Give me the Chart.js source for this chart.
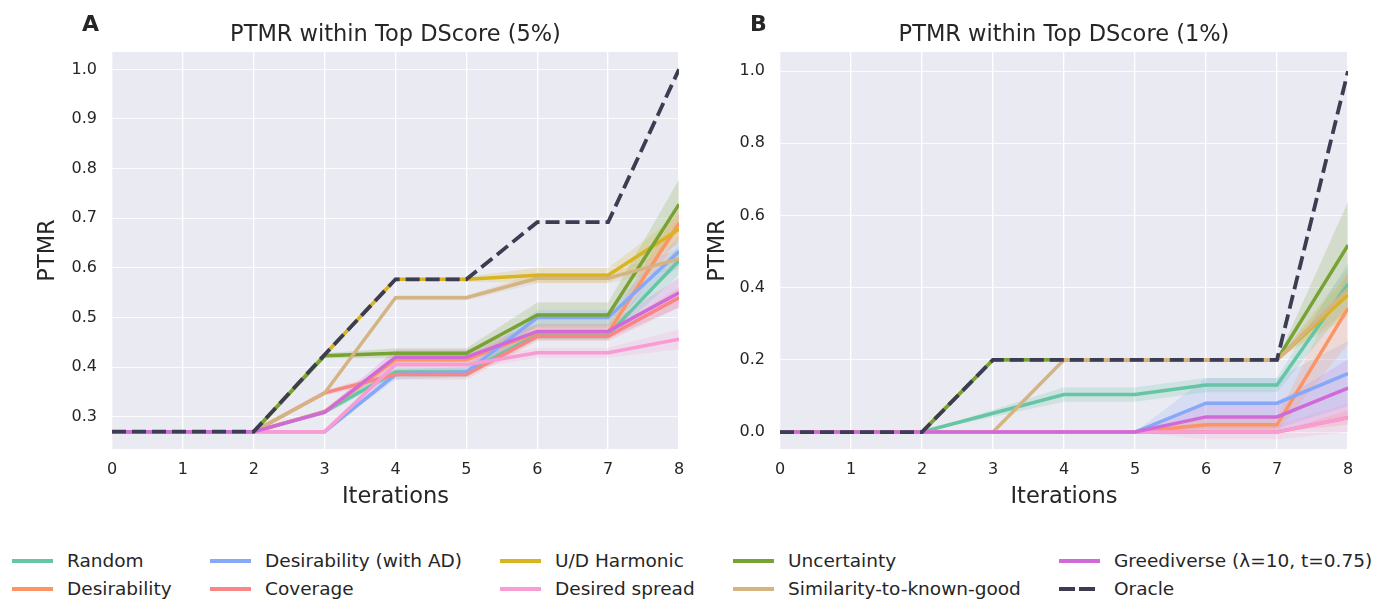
<!DOCTYPE html>
<html>
<head>
<meta charset="utf-8">
<script src="https://cdn.jsdelivr.net/npm/chart.js@4"></script>
<style>
body { margin: 0; background: #fff; font-family: "DejaVu Sans", sans-serif; color: #262626; }
#wrap { position: relative; width: 1381px; height: 601px; overflow: hidden; }
canvas { position: absolute; top: 0; }
.ttl { position: absolute; top: 19px; height: 28px; line-height: 28px; font-size: 22.5px; text-align: center; white-space: nowrap; }
.pl { position: absolute; top: 11px; font-size: 22px; font-weight: bold; }
.lg { position: absolute; font-size: 18.5px; line-height: 22px; white-space: nowrap; }
.sw { position: absolute; height: 3.5px; }
</style>
</head>
<body>
<div id="wrap">
  <canvas id="chartA" width="700" height="530" style="left:0"></canvas>
  <canvas id="chartB" width="691" height="530" style="left:690px"></canvas>
  <div class="pl" style="left:82px">A</div>
  <div class="pl" style="left:750px">B</div>
  <div class="ttl" style="left:112px;width:567px">PTMR within Top DScore (5%)</div>
  <div class="ttl" style="left:780px;width:568px">PTMR within Top DScore (1%)</div>
  <div id="legend"></div>
</div>
<script>
const iterations = [0, 1, 2, 3, 4, 5, 6, 7, 8];

const seriesNames = ['Random', 'Desirability', 'Desirability (with AD)', 'Coverage', 'U/D Harmonic',
  'Desired spread', 'Uncertainty', 'Similarity-to-known-good', 'Greediverse (\u03bb=10, t=0.75)', 'Oracle'];
const seriesColors = ['#66c5a5', '#fc9464', '#86a8f8', '#f88686', '#d8b420',
  '#f89cd4', '#76a334', '#d4b483', '#d06ad8', '#3c3d52'];

// top 5% panel, mean and half-width of the shaded band
const top5Mean = [
  [0.27, 0.27, 0.27, 0.31, 0.39, 0.39, 0.465, 0.465, 0.615],
  [0.27, 0.27, 0.27, 0.31, 0.415, 0.415, 0.47, 0.47, 0.69],
  [0.27, 0.27, 0.27, 0.27, 0.385, 0.39, 0.50, 0.50, 0.633],
  [0.27, 0.27, 0.27, 0.348, 0.385, 0.385, 0.462, 0.462, 0.54],
  [0.27, 0.27, 0.27, 0.425, 0.577, 0.577, 0.585, 0.585, 0.678],
  [0.27, 0.27, 0.27, 0.27, 0.405, 0.405, 0.429, 0.429, 0.456],
  [0.27, 0.27, 0.27, 0.423, 0.428, 0.428, 0.505, 0.505, 0.728],
  [0.27, 0.27, 0.27, 0.348, 0.54, 0.54, 0.579, 0.579, 0.618],
  [0.27, 0.27, 0.27, 0.309, 0.42, 0.42, 0.472, 0.472, 0.55],
  [0.27, 0.27, 0.27, 0.425, 0.577, 0.577, 0.692, 0.692, 1.0]
];
const top5Err = [
  [0, 0, 0, 0.005, 0.01, 0.01, 0.01, 0.01, 0.03],
  [0, 0, 0, 0.005, 0.01, 0.01, 0.015, 0.015, 0.03],
  [0, 0, 0, 0, 0.01, 0.01, 0.015, 0.015, 0.03],
  [0, 0, 0, 0.005, 0.01, 0.01, 0.01, 0.01, 0.02],
  [0, 0, 0, 0, 0, 0.005, 0.015, 0.015, 0.03],
  [0, 0, 0, 0, 0.01, 0.01, 0.01, 0.01, 0.02],
  [0, 0, 0, 0.005, 0.01, 0.01, 0.025, 0.025, 0.05],
  [0, 0, 0, 0, 0.005, 0.005, 0.01, 0.01, 0.02],
  [0, 0, 0, 0.005, 0.015, 0.015, 0.015, 0.015, 0.03],
  [0, 0, 0, 0, 0, 0, 0, 0, 0]
];

// top 1% panel
const top1Mean = [
  [0, 0, 0, 0.052, 0.104, 0.104, 0.13, 0.13, 0.41],
  [0, 0, 0, 0, 0, 0, 0.02, 0.02, 0.343],
  [0, 0, 0, 0, 0, 0, 0.08, 0.08, 0.162],
  [0, 0, 0, 0, 0, 0, 0, 0, 0.04],
  [0, 0, 0, 0.2, 0.2, 0.2, 0.2, 0.2, 0.38],
  [0, 0, 0, 0, 0, 0, 0, 0, 0.04],
  [0, 0, 0, 0.2, 0.2, 0.2, 0.2, 0.2, 0.518],
  [0, 0, 0, 0, 0.2, 0.2, 0.2, 0.2, 0.395],
  [0, 0, 0, 0, 0, 0, 0.042, 0.042, 0.122],
  [0, 0, 0, 0.2, 0.2, 0.2, 0.2, 0.2, 1.0]
];
const top1Err = [
  [0, 0, 0, 0.01, 0.02, 0.02, 0.02, 0.02, 0.06],
  [0, 0, 0, 0, 0, 0, 0.02, 0.02, 0.1],
  [0, 0, 0, 0, 0, 0, 0.07, 0.07, 0.09],
  [0, 0, 0, 0, 0, 0, 0, 0, 0.02],
  [0, 0, 0, 0, 0, 0, 0, 0, 0.06],
  [0, 0, 0, 0, 0, 0, 0.02, 0.02, 0.04],
  [0, 0, 0, 0, 0, 0, 0, 0, 0.12],
  [0, 0, 0, 0, 0, 0, 0, 0, 0.06],
  [0, 0, 0, 0, 0, 0, 0.04, 0.04, 0.08],
  [0, 0, 0, 0, 0, 0, 0, 0, 0]
];

const top5Ticks = [0.3, 0.4, 0.5, 0.6, 0.7, 0.8, 0.9, 1.0];
const top1Ticks = [0.0, 0.2, 0.4, 0.6, 0.8, 1.0];

function rgba(hex, a) {
  const n = parseInt(hex.slice(1), 16);
  return 'rgba(' + (n >> 16) + ',' + ((n >> 8) & 255) + ',' + (n & 255) + ',' + a + ')';
}

function buildDatasets(means, errs) {
  const ds = [];
  const nBands = seriesNames.length - 1;
  for (let i = 0; i < nBands; i++) {
    const up = ds.length;
    ds.push({
      data: means[i].map((m, k) => ({ x: iterations[k], y: m + errs[i][k] })),
      borderWidth: 0, pointRadius: 0, fill: false, order: 100 + i
    });
    ds.push({
      data: means[i].map((m, k) => ({ x: iterations[k], y: m - errs[i][k] })),
      borderWidth: 0, pointRadius: 0, order: 100 + i,
      fill: { target: up }, backgroundColor: rgba(seriesColors[i], 0.2)
    });
  }
  seriesNames.forEach((name, i) => {
    const oracle = name === 'Oracle';
    ds.push({
      label: name,
      data: means[i].map((m, k) => ({ x: iterations[k], y: m })),
      borderColor: seriesColors[i],
      borderWidth: oracle ? 3.8 : 3.5,
      borderDash: oracle ? [14, 6] : [],
      pointRadius: 0,
      fill: false,
      tension: 0,
      order: seriesNames.length - i
    });
  });
  return ds;
}

const plotBg = {
  id: 'plotBg',
  beforeDraw(chart) {
    const a = chart.chartArea;
    chart.ctx.save();
    chart.ctx.fillStyle = '#eaeaf2';
    chart.ctx.fillRect(a.left, a.top, a.right - a.left, a.bottom - a.top);
    chart.ctx.restore();
  }
};

function createChart(id, means, errs, tickVals, yMin, yMax, yWidth, yTitlePad, padRight) {
  const ctx = document.getElementById(id).getContext('2d');
  return new Chart(ctx, {
    type: 'line',
    data: { datasets: buildDatasets(means, errs) },
    plugins: [plotBg],
    options: {
      responsive: false,
      animation: false,
      layout: { padding: { top: 52, right: padRight, bottom: 11, left: 0 } },
      plugins: { legend: { display: false }, tooltip: { enabled: false } },
      scales: {
        x: {
          type: 'linear', min: 0, max: 8,
          afterFit(s) { s.height = 70; },
          ticks: { stepSize: 1, padding: 11, color: '#262626', font: { family: 'DejaVu Sans', size: 16 } },
          grid: { color: '#ffffff', lineWidth: 1.3, drawTicks: false },
          border: { display: false },
          title: { display: true, text: 'Iterations', color: '#262626', padding: { top: 0, bottom: 8.5 },
            font: { family: 'DejaVu Sans', size: 22.5 } }
        },
        y: {
          type: 'linear', min: yMin, max: yMax,
          afterFit(s) { s.width = yWidth; },
          afterBuildTicks(s) { s.ticks = tickVals.map(v => ({ value: v })); },
          ticks: { padding: 15, color: '#262626', font: { family: 'DejaVu Sans', size: 16 },
            callback: v => v.toFixed(1) },
          grid: { color: 'rgba(255,255,255,0.8)', lineWidth: 1, drawTicks: false },
          border: { display: false },
          title: { display: true, text: 'PTMR', color: '#262626', padding: { top: yTitlePad, bottom: 0 },
            font: { family: 'DejaVu Sans', size: 22.5 } }
        }
      }
    }
  });
}

function buildLegend() {
  const cols = [12, 210, 500, 733, 1059];
  const rows = [561, 589];
  const box = document.getElementById('legend');
  seriesNames.forEach((name, i) => {
    const x = cols[Math.floor(i / 2)];
    const y = rows[i % 2];
    if (name === 'Oracle') {
      [0, 20].forEach(dx => {
        const d = document.createElement('div');
        d.className = 'sw';
        d.style.cssText = 'left:' + (x + dx) + 'px;top:' + (y - 1.75) + 'px;width:16px;background:' + seriesColors[i];
        box.appendChild(d);
      });
    } else {
      const d = document.createElement('div');
      d.className = 'sw';
      d.style.cssText = 'left:' + x + 'px;top:' + (y - 1.75) + 'px;width:41px;background:' + seriesColors[i];
      box.appendChild(d);
    }
    const t = document.createElement('div');
    t.className = 'lg';
    t.style.left = (x + 55) + 'px';
    t.style.top = (y - 11) + 'px';
    t.textContent = name;
    box.appendChild(t);
  });
}

createChart('chartA', top5Mean, top5Err, top5Ticks, 0.235, 1.035, 112, 34.5, 21);
createChart('chartB', top1Mean, top1Err, top1Ticks, -0.047, 1.053, 90, 14.5, 33);
buildLegend();
</script>
</body>
</html>
